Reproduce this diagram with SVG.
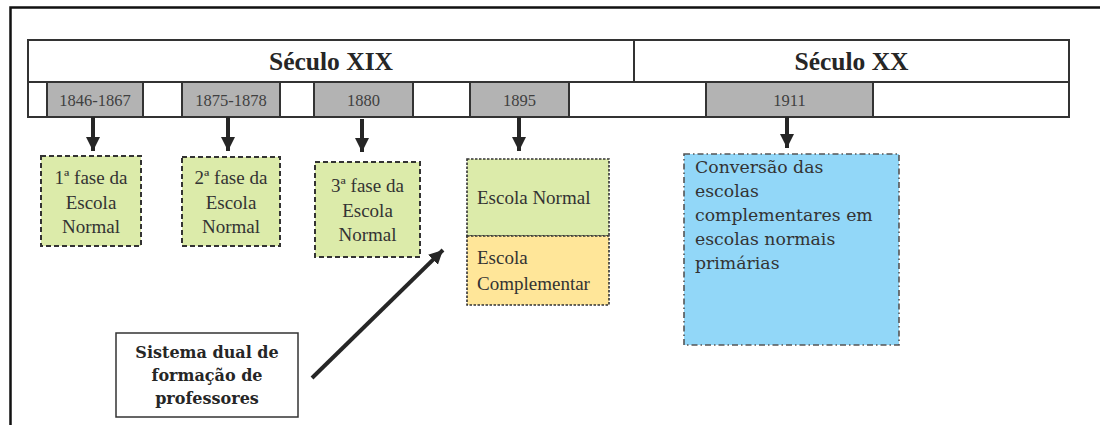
<svg xmlns="http://www.w3.org/2000/svg" width="1100" height="425" viewBox="0 0 1100 425">
<defs>
<style>
.frame{fill:none;stroke:#111;stroke-width:2.5}
.cell{fill:#fff;stroke:#333;stroke-width:2}
.yr{fill:#b3b3b3;stroke:#333;stroke-width:2}
.yt{font-family:"Liberation Serif",serif;font-size:16.5px;fill:#404040;text-anchor:middle}
.cent{font-family:"Liberation Serif",serif;font-size:25.5px;font-weight:bold;fill:#262626;text-anchor:middle}
.bt{font-family:"Liberation Serif",serif;font-size:19px;fill:#333;text-anchor:middle}
.bl{font-family:"Liberation Serif",serif;font-size:19px;fill:#333}
.green{fill:#dcebaa;stroke:#333;stroke-width:2;stroke-dasharray:5 3}
.g2{fill:#dcebaa;stroke:#333;stroke-width:1.6;stroke-dasharray:2.5 1.5}
.orange{fill:#ffe699;stroke:#333;stroke-width:1.6;stroke-dasharray:2.5 1.5}
.blue{fill:#92d7f8;stroke:#555;stroke-width:1.6;stroke-dasharray:6 3 1.5 3}
.blt{font-family:"DejaVu Serif",serif;font-size:17.3px;fill:#333}
.sys{fill:#fff;stroke:#333;stroke-width:1.5}
.syt{font-family:"DejaVu Serif",serif;font-size:16px;font-weight:bold;fill:#262626;text-anchor:middle}
.conn{stroke:#262626;stroke-width:4;fill:none}
</style>
<marker id="ah" markerUnits="userSpaceOnUse" markerWidth="16" markerHeight="16" refX="14" refY="7" orient="auto">
<path d="M0,0 L14,7 L0,14 Z" fill="#262626"/>
</marker>
</defs>
<rect width="1100" height="425" fill="#fff"/>
<path class="frame" d="M10.5,425 L10.5,7.5 L1100,7.5"/>

<g id="timeline">
<rect class="cell" x="28" y="40" width="606" height="42"/>
<rect class="cell" x="634" y="40" width="435" height="42"/>
<rect class="cell" x="28" y="82" width="1041" height="35"/>
<text class="cent" x="331" y="70">Século XIX</text>
<text class="cent" x="851.5" y="70">Século XX</text>
</g>
<g id="y1846"><rect class="yr" x="47" y="82" width="96" height="35"/><text class="yt" x="95" y="106">1846-1867</text></g>
<g id="y1875"><rect class="yr" x="182" y="82" width="98" height="35"/><text class="yt" x="231" y="106">1875-1878</text></g>
<g id="y1880"><rect class="yr" x="314" y="82" width="99" height="35"/><text class="yt" x="363.5" y="106">1880</text></g>
<g id="y1895"><rect class="yr" x="470" y="82" width="99" height="35"/><text class="yt" x="519.5" y="106">1895</text></g>
<g id="y1911"><rect class="yr" x="706" y="82" width="167" height="35"/><text class="yt" x="789.5" y="106">1911</text></g>

<g id="fase1"><rect class="green" x="41" y="156" width="100" height="90"/>
<text class="bt" x="91" y="184">1ª fase da</text><text class="bt" x="91" y="209">Escola</text><text class="bt" x="91" y="233">Normal</text></g>
<g id="fase2"><rect class="green" x="182" y="157" width="98" height="89"/>
<text class="bt" x="231" y="184">2ª fase da</text><text class="bt" x="231" y="209">Escola</text><text class="bt" x="231" y="233">Normal</text></g>
<g id="fase3"><rect class="green" x="315" y="162" width="105" height="95"/>
<text class="bt" x="367.5" y="192">3ª fase da</text><text class="bt" x="367.5" y="217">Escola</text><text class="bt" x="367.5" y="241">Normal</text></g>
<g id="escolaNormal"><rect class="g2" x="467" y="159" width="142" height="77"/>
<text class="bl" x="477" y="204">Escola Normal</text></g>
<g id="escolaComplementar"><rect class="orange" x="467" y="236" width="142" height="69"/>
<text class="bl" x="477" y="264">Escola</text><text class="bl" x="477" y="290">Complementar</text></g>
<g id="conversao"><rect class="blue" x="684" y="154" width="215" height="191"/>
<text class="blt" x="695" y="173">Conversão das</text>
<text class="blt" x="695" y="197">escolas</text>
<text class="blt" x="695" y="221">complementares em</text>
<text class="blt" x="695" y="245">escolas normais</text>
<text class="blt" x="695" y="269">primárias</text></g>
<g id="sistema"><rect class="sys" x="116" y="333" width="182" height="84"/>
<text class="syt" x="207" y="358">Sistema dual de</text>
<text class="syt" x="207" y="381">formação de</text>
<text class="syt" x="207" y="404">professores</text></g>

<g id="connectors">
<line class="conn" x1="93" y1="117" x2="93" y2="151" marker-end="url(#ah)"/>
<line class="conn" x1="228" y1="117" x2="228" y2="151" marker-end="url(#ah)"/>
<line class="conn" x1="362" y1="119" x2="362" y2="152" marker-end="url(#ah)"/>
<line class="conn" x1="519" y1="117" x2="519" y2="151" marker-end="url(#ah)"/>
<line class="conn" x1="787" y1="117" x2="787" y2="148" marker-end="url(#ah)"/>
<line class="conn" x1="312" y1="378" x2="443" y2="250" marker-end="url(#ah)"/>
</g>
</svg>
